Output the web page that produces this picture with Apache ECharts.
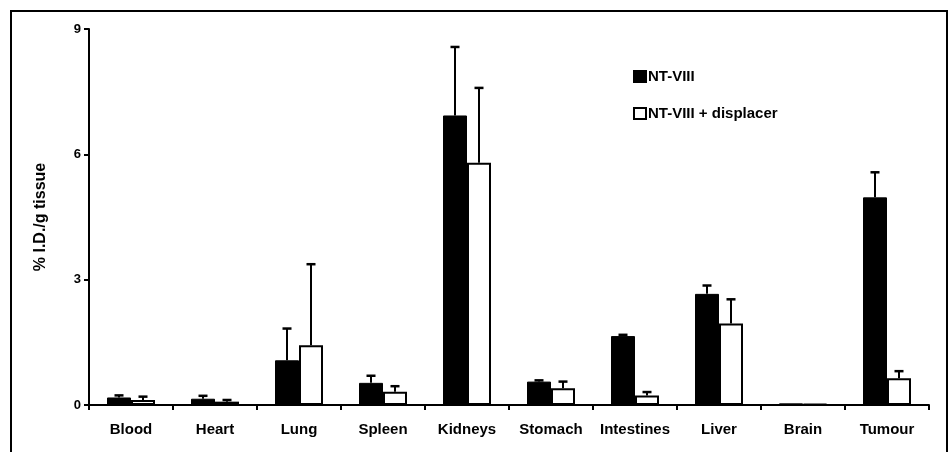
<!DOCTYPE html>
<html>
<head>
<meta charset="utf-8">
<script src="https://cdn.jsdelivr.net/npm/echarts@6/dist/echarts.min.js"></script>
<style>html,body{margin:0;padding:0;background:#fff;}#c{width:948px;height:452px;}</style>
</head>
<body>
<div id="c"></div>
<script>
var categories = ['Blood','Heart','Lung','Spleen','Kidneys','Stomach','Intestines','Liver','Brain','Tumour'];
var ntViii = [0.18, 0.15, 1.07, 0.53, 6.93, 0.56, 1.65, 2.66, 0.04, 4.97];
var ntViiiErr = [0.05, 0.07, 0.76, 0.17, 1.64, 0.03, 0.03, 0.2, 0, 0.6];
var ntViiiDisp = [0.12, 0.08, 1.43, 0.32, 5.8, 0.4, 0.23, 1.95, 0.02, 0.64];
var ntViiiDispErr = [0.08, 0.04, 1.94, 0.13, 1.79, 0.16, 0.08, 0.58, 0, 0.17];
var yTicks = [0, 3, 6, 9];
var seriesNames = ['NT-VIII', 'NT-VIII + displacer'];

var font = 'Liberation Sans, Arial, sans-serif';
var chart = echarts.init(document.getElementById('c'));

function errData(vals, errs) {
  return vals.map(function (v, i) { return [i, v, v + errs[i]]; });
}
function errRender(offset) {
  return function (params, api) {
    var idx = api.value(0);
    var p0 = api.coord([idx, api.value(1)]);
    var p1 = api.coord([idx, api.value(2)]);
    if (api.value(2) - api.value(1) <= 0) return { type: 'group', children: [] };
    var x = p0[0] + offset;
    return {
      type: 'group',
      children: [
        { type: 'line', shape: { x1: x, y1: p0[1], x2: x, y2: p1[1] }, style: { stroke: '#000', lineWidth: 2 } },
        { type: 'line', shape: { x1: x - 4.5, y1: p1[1], x2: x + 4.5, y2: p1[1] }, style: { stroke: '#000', lineWidth: 2.5 } }
      ]
    };
  };
}

var option = {
  backgroundColor: '#fff',
  animation: false,
  textStyle: { fontFamily: font },
  graphic: [{
    type: 'rect', shape: { x: 11, y: 11, width: 936, height: 470 },
    style: { fill: 'none', stroke: '#000', lineWidth: 2 }, silent: true
  }],
  legend: {
    orient: 'vertical', left: 633, top: 69, itemWidth: 12, itemHeight: 11, itemGap: 22,
    icon: 'rect', padding: 0,
    textStyle: { fontFamily: font, fontWeight: 'bold', fontSize: 15, lineHeight: 15, color: '#000', padding: [0, 0, 0, -3] },
    data: seriesNames
  },
  grid: { left: 89, right: 19, top: 29, bottom: 47, containLabel: false },
  xAxis: {
    type: 'category', data: categories,
    axisLine: { lineStyle: { color: '#000', width: 2 } },
    axisTick: { show: true, length: 5, lineStyle: { color: '#000', width: 2 } },
    axisLabel: { color: '#000', fontWeight: 'bold', fontSize: 15, fontFamily: font, margin: 17, interval: 0 }
  },
  yAxis: {
    type: 'value', min: 0, max: 9, interval: 3,
    name: '% I.D./g tissue', nameLocation: 'middle', nameGap: 40,
    nameTextStyle: { color: '#000', fontWeight: 'bold', fontSize: 16, fontFamily: font },
    axisLine: { show: true, lineStyle: { color: '#000', width: 2 } },
    axisTick: { show: true, length: 5, lineStyle: { color: '#000', width: 2 } },
    axisLabel: { color: '#000', fontWeight: 'bold', fontSize: 13, fontFamily: font, margin: 8,
      formatter: function (v) { return yTicks.indexOf(v) >= 0 ? String(v) : ''; } },
    splitLine: { show: false }
  },
  series: [
    { name: seriesNames[0], type: 'bar', data: ntViii, barWidth: 24, barGap: '0%',
      itemStyle: { color: '#000', borderColor: '#000', borderWidth: 1 } },
    { name: seriesNames[1], type: 'bar', data: ntViiiDisp, barWidth: 24, barGap: '0%',
      itemStyle: { color: '#fff', borderColor: '#000', borderWidth: 2 } },
    { type: 'custom', data: errData(ntViii, ntViiiErr), renderItem: errRender(-12), z: 5,
      encode: { x: 0, y: [1, 2] } },
    { type: 'custom', data: errData(ntViiiDisp, ntViiiDispErr), renderItem: errRender(12), z: 5,
      encode: { x: 0, y: [1, 2] } }
  ]
};
chart.setOption(option);
</script>
</body>
</html>
